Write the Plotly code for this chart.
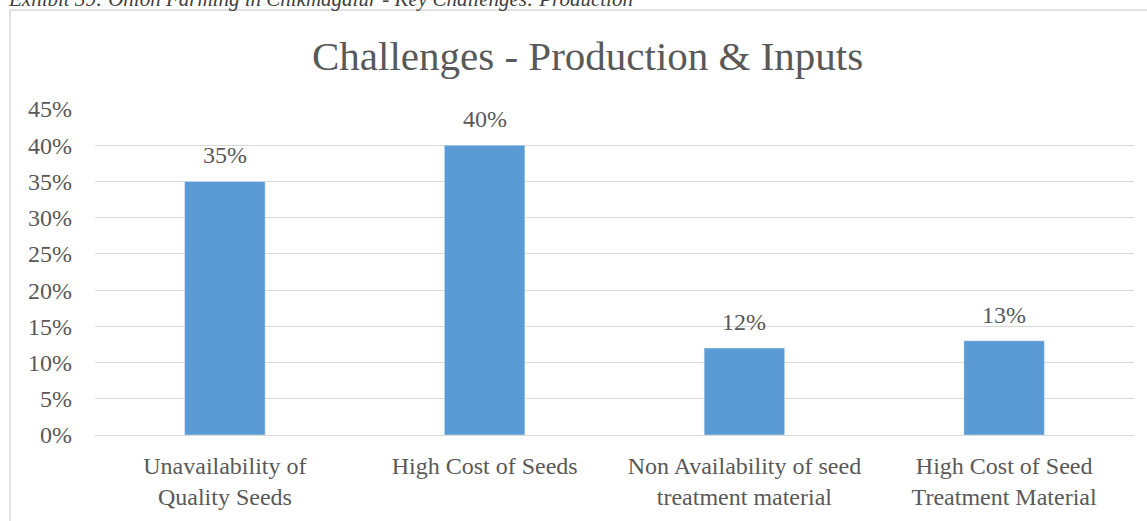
import plotly.graph_objects as go

# Survey results: share of farmers reporting each production/input challenge
categories = [
    "Unavailability of<br>Quality Seeds",
    "High Cost of Seeds",
    "Non Availability of seed<br>treatment material",
    "High Cost of Seed<br>Treatment Material",
]
shares = [0.35, 0.40, 0.12, 0.13]
tick_values = [0, 0.05, 0.10, 0.15, 0.20, 0.25, 0.30, 0.35, 0.40, 0.45]
tick_labels = ["0%", "5%", "10%", "15%", "20%", "25%", "30%", "35%", "40%", "45%"]

W, H = 1147, 521
L, R, T, B = 95, 13, 109, 86
pw, ph = W - L - R, H - T - B

FONT = "Liberation Serif"
GREY = "#595959"

fig = go.Figure(
    go.Bar(
        x=categories,
        y=shares,
        marker=dict(color="#5b9bd5"),
        hoverinfo="skip",
    )
)

# value labels above each bar
for c, v in zip(categories, shares):
    fig.add_annotation(
        x=c, y=v, text=f"{v:.0%}", showarrow=False,
        yanchor="bottom", yshift=11,
        font=dict(family=FONT, size=24, color=GREY),
    )

# outer chart frame
def px_x(x):
    return (x - L) / pw

def px_y(y):
    return (H - B - y) / ph

fig.add_shape(
    type="rect", xref="paper", yref="paper",
    x0=px_x(10), x1=px_x(1160), y0=px_y(530), y1=px_y(10),
    line=dict(color="#d9d9d9", width=1.5), fillcolor="rgba(0,0,0,0)", layer="below",
)

fig.add_annotation(
    text="Challenges - Production & Inputs",
    xref="paper", yref="paper", x=px_x(587), y=px_y(56),
    xanchor="center", yanchor="middle", showarrow=False,
    font=dict(family=FONT, size=41, color=GREY),
)

fig.add_annotation(
    text="<i>Exhibit 39: Onion Farming in Chikmagalur - Key Challenges: Production</i>",
    xref="paper", yref="paper", x=px_x(6), y=px_y(13),
    xanchor="left", yanchor="bottom", showarrow=False,
    font=dict(family=FONT, size=21, color="#404040"),
)

fig.update_layout(
    width=W, height=H,
    margin=dict(l=L, r=R, t=T, b=B),
    paper_bgcolor="white", plot_bgcolor="white",
    bargap=0.69,
    showlegend=False,
    font=dict(family=FONT, size=24, color=GREY),
)
fig.update_xaxes(
    showline=True, linecolor="#d9d9d9", linewidth=1,
    ticks="", ticklabelstandoff=9,
    tickfont=dict(family=FONT, size=24, color=GREY),
)
fig.update_yaxes(
    range=[0, 0.45], tickvals=tick_values, ticktext=tick_labels,
    showgrid=True, gridcolor="#d9d9d9", gridwidth=1,
    zeroline=False, showline=False, ticks="", ticklabelstandoff=22,
    tickfont=dict(family=FONT, size=24, color=GREY),
)

fig.write_html("out.html")
